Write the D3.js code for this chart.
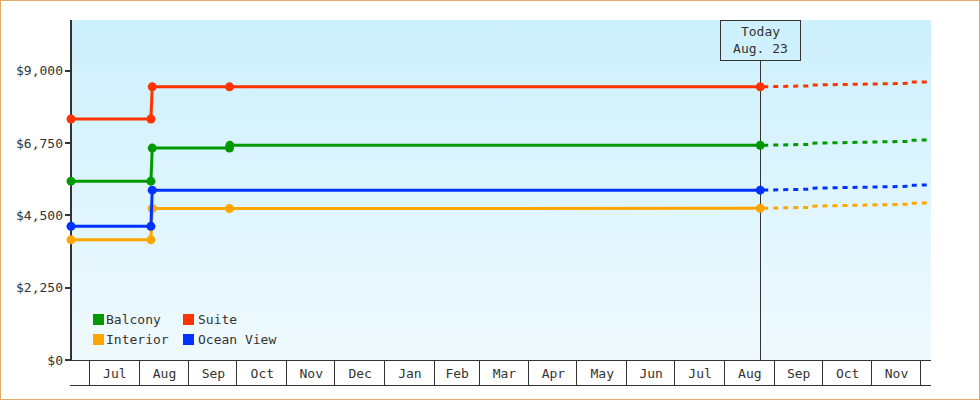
<!DOCTYPE html>
<html>
<head>
<meta charset="utf-8">
<script src="https://cdn.jsdelivr.net/npm/d3@7"></script>
<style>
  body { margin: 0; background: #fff; }
  svg { display: block; }
  text { font-family: "DejaVu Sans Mono", monospace; font-size: 13px; fill: #333; }
</style>
</head>
<body>
<div id="chart"></div>
<script>
// price history per cabin type: [date, price]
var balcony = [["2012-06-19T04:00", 5565], ["2012-08-08T00:00", 5565], ["2012-08-08T20:00", 6595],
               ["2012-09-26T00:00", 6595], ["2012-09-26T06:00", 6680], ["2013-08-23T00:00", 6680]];
var suite = [["2012-06-19T04:00", 7500], ["2012-08-08T00:00", 7500], ["2012-08-08T20:00", 8500],
             ["2012-09-26T00:00", 8500], ["2013-08-23T00:00", 8500]];
var interior = [["2012-06-19T04:00", 3740], ["2012-08-08T00:00", 3740], ["2012-08-08T20:00", 4715],
                ["2012-09-26T00:00", 4715], ["2013-08-23T00:00", 4720]];
var oceanView = [["2012-06-19T04:00", 4160], ["2012-08-08T00:00", 4160], ["2012-08-08T20:00", 5285],
                 ["2013-08-23T00:00", 5285]];

// forecast after today
var forecastDates = ["2013-08-23T00:00", "2013-09-23T00:00", "2013-09-23T06:00",
                     "2013-11-25T00:00", "2013-11-25T06:00", "2013-12-07T12:00"];
var balconyForecast = [6680, 6710, 6745, 6805, 6840, 6845];
var suiteForecast = [8500, 8530, 8555, 8610, 8650, 8655];
var interiorForecast = [4720, 4750, 4785, 4850, 4880, 4885];
var oceanViewForecast = [5285, 5315, 5345, 5405, 5440, 5445];

var yTicks = [0, 2250, 4500, 6750, 9000];
var todayDate = "2013-08-23T00:00";
var todayLabel = ["Today", "Aug. 23"];

var series = [
  {name: "Interior", color: "#ffa500", hist: interior, fc: interiorForecast},
  {name: "Balcony", color: "#009900", hist: balcony, fc: balconyForecast},
  {name: "Suite", color: "#ff3300", hist: suite, fc: suiteForecast},
  {name: "Ocean View", color: "#0033ff", hist: oceanView, fc: oceanViewForecast}
];
var legendOrder = ["Balcony", "Suite", "Interior", "Ocean View"];

var W = 980, H = 400;
var margin = {top: 20, right: 49, bottom: 40, left: 71},
    width = W - margin.left - margin.right,
    height = H - margin.top - margin.bottom;

var parse = d3.utcParse("%Y-%m-%dT%H:%M");

var svg = d3.select("#chart").append("svg")
    .attr("width", W)
    .attr("height", H);

// outer frame
svg.append("rect")
    .attr("x", 0.5).attr("y", 0.5)
    .attr("width", W - 1).attr("height", H - 1)
    .attr("fill", "#fff")
    .attr("stroke", "#e6a964");

var defs = svg.append("defs");
var grad = defs.append("linearGradient")
    .attr("id", "bg").attr("x1", 0).attr("y1", 0).attr("x2", 0).attr("y2", 1);
grad.append("stop").attr("offset", "0%").attr("stop-color", "#ccf0fc");
grad.append("stop").attr("offset", "100%").attr("stop-color", "#f0fafe");

var g = svg.append("g")
    .attr("transform", "translate(" + margin.left + "," + margin.top + ")");

var x = d3.scaleUtc()
    .domain([parse("2012-06-19T04:00"), parse("2013-12-07T12:00")])
    .range([0, width]);

var y = d3.scaleLinear()
    .domain([0, 10580])
    .range([height, 0]);

g.append("rect")
    .attr("width", width).attr("height", height)
    .attr("fill", "url(#bg)");

// x axis: month cells
var months = d3.utcMonth.range(d3.utcMonth.ceil(x.domain()[0]), x.domain()[1]);
var xa = g.append("g").attr("transform", "translate(0," + height + ")");
xa.append("line")
    .attr("x1", -1).attr("x2", width)
    .attr("y1", 0.5).attr("y2", 0.5)
    .attr("stroke", "#333");
xa.append("line")
    .attr("x1", -1).attr("x2", width)
    .attr("y1", 25.5).attr("y2", 25.5)
    .attr("stroke", "#333");
xa.selectAll(".sep")
    .data(months)
    .enter().append("line")
    .attr("x1", d => Math.round(x(d)) - 0.5)
    .attr("x2", d => Math.round(x(d)) - 0.5)
    .attr("y1", 0).attr("y2", 25)
    .attr("stroke", "#333");
var fmtMonth = d3.utcFormat("%b");
xa.selectAll(".mlabel")
    .data(months.filter(d => d3.utcMonth.offset(d, 1) <= x.domain()[1]))
    .enter().append("text")
    .attr("x", d => (x(d) + x(d3.utcMonth.offset(d, 1))) / 2)
    .attr("y", 18)
    .attr("text-anchor", "middle")
    .text(d => fmtMonth(d));

// y axis
var ya = g.append("g");
ya.append("line")
    .attr("x1", -0).attr("x2", -0)
    .attr("y1", 0).attr("y2", height + 1)
    .attr("stroke", "#333").attr("stroke-width", 2);
ya.selectAll(".tick")
    .data(yTicks)
    .enter().append("line")
    .attr("x1", -6).attr("x2", 0)
    .attr("y1", d => Math.round(y(d)))
    .attr("y2", d => Math.round(y(d)))
    .attr("stroke", "#333").attr("stroke-width", 2);
var fmtY = d3.format("$,");
ya.selectAll(".ylabel")
    .data(yTicks)
    .enter().append("text")
    .attr("x", -8)
    .attr("y", d => y(d))
    .attr("dy", "0.35em")
    .attr("text-anchor", "end")
    .text(d => fmtY(d));

// today marker
var tx = Math.round(x(parse(todayDate))) + 0.5;
g.append("line")
    .attr("x1", tx).attr("x2", tx)
    .attr("y1", 40).attr("y2", height)
    .attr("stroke", "#333");
g.append("rect")
    .attr("x", tx - 40).attr("y", 0.5)
    .attr("width", 80).attr("height", 40)
    .attr("fill", "none")
    .attr("stroke", "#333");
g.selectAll(".today")
    .data(todayLabel)
    .enter().append("text")
    .attr("x", tx)
    .attr("y", (d, i) => 16 + i * 17)
    .attr("text-anchor", "middle")
    .text(d => d);

var line = d3.line()
    .x(d => x(d[0]))
    .y(d => y(d[1]));

series.forEach(function(s) {
  var hist = s.hist.map(d => [parse(d[0]), d[1]]);
  var fc = s.fc.map((v, i) => [parse(forecastDates[i]), v]);

  g.append("path")
    .datum(fc)
    .attr("d", line)
    .attr("fill", "none")
    .attr("stroke", s.color)
    .attr("stroke-width", 3)
    .attr("stroke-dasharray", "5,5")
    .attr("stroke-dashoffset", -3);

  g.append("path")
    .datum(hist)
    .attr("d", line)
    .attr("fill", "none")
    .attr("stroke", s.color)
    .attr("stroke-width", 3);

  g.selectAll(null)
    .data(hist)
    .enter().append("circle")
    .attr("cx", d => x(d[0]))
    .attr("cy", d => y(d[1]))
    .attr("r", 4.5)
    .attr("fill", s.color);
});

// legend
var legend = g.append("g").attr("transform", "translate(22,294)");
legendOrder.forEach(function(name, i) {
  var s = series.find(d => d.name === name);
  var lx = (i % 2) * 90, ly = Math.floor(i / 2) * 20;
  legend.append("rect")
    .attr("x", lx).attr("y", ly)
    .attr("width", 11).attr("height", 11)
    .attr("fill", s.color);
  legend.append("text")
    .attr("x", lx + (i % 2 ? 15 : 13))
    .attr("y", ly + 10)
    .text(name);
});
</script>
</body>
</html>
